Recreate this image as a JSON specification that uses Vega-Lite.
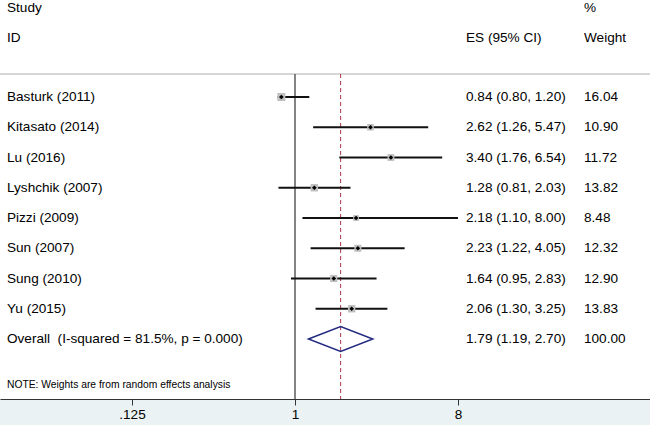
{
  "$schema": "https://vega.github.io/schema/vega-lite/v6.json",
  "width": 650,
  "height": 399,
  "autosize": {"type": "none"},
  "padding": {"left": 0, "top": 0, "right": 0, "bottom": 26},
  "background": "#eaf2f3",
  "config": {
    "view": {"fill": "white", "stroke": null},
    "font": "Liberation Sans",
    "text": {"font": "Liberation Sans", "fontSize": 13.6, "color": "#000000"}
  },
  "data": {
    "values": [
      {"study": "Basturk (2011)", "es": 0.84, "lo": 0.80, "hi": 1.20, "w": 16.04},
      {"study": "Kitasato (2014)", "es": 2.62, "lo": 1.26, "hi": 5.47, "w": 10.90},
      {"study": "Lu (2016)", "es": 3.40, "lo": 1.76, "hi": 6.54, "w": 11.72},
      {"study": "Lyshchik (2007)", "es": 1.28, "lo": 0.81, "hi": 2.03, "w": 13.82},
      {"study": "Pizzi (2009)", "es": 2.18, "lo": 1.10, "hi": 8.00, "w": 8.48},
      {"study": "Sun (2007)", "es": 2.23, "lo": 1.22, "hi": 4.05, "w": 12.32},
      {"study": "Sung (2010)", "es": 1.64, "lo": 0.95, "hi": 2.83, "w": 12.90},
      {"study": "Yu (2015)", "es": 2.06, "lo": 1.30, "hi": 3.25, "w": 13.83},
      {"study": "Overall\u00a0 (I-squared = 81.5%, p = 0.000)", "es": 1.79, "lo": 1.19, "hi": 2.70, "w": 100.00}
    ]
  },
  "transform": [
    {"calculate": "indexof(datum.study, 'Overall') == 0", "as": "isOverall"},
    {"calculate": "format(datum.es, '.2f') + ' (' + format(datum.lo, '.2f') + ', ' + format(datum.hi, '.2f') + ')'", "as": "esLabel"},
    {"calculate": "format(datum.w, '.2f')", "as": "wLabel"}
  ],
  "layer": [
    {
      "data": {"values": [{}]},
      "mark": {"type": "rule", "color": "#c8c8c8", "strokeWidth": 1.5, "yOffset": 7.25},
      "encoding": {
        "y": {"datum": "gap", "type": "nominal", "axis": null,
          "scale": {"type": "point", "padding": 0, "range": [6.25, 369.25],
            "domain": ["Study", "ID", "gap", "Basturk (2011)", "Kitasato (2014)", "Lu (2016)", "Lyshchik (2007)", "Pizzi (2009)", "Sun (2007)", "Sung (2010)", "Yu (2015)", "Overall\u00a0 (I-squared = 81.5%, p = 0.000)", "NOTE"]}}
      }
    },
    {
      "data": {"values": [{}]},
      "mark": {"type": "rule", "color": "#666666", "strokeWidth": 1.6, "yOffset": 7.25, "y2Offset": 29.75},
      "encoding": {
        "x": {"datum": 1, "type": "quantitative",
          "scale": {"type": "log", "base": 2, "domain": [0.023197, 92.68], "nice": false, "zero": false},
          "axis": {"values": [0.125, 1, 8], "labelExpr": "datum.value < 1 ? '.125' : format(datum.value, 'd')",
            "orient": "bottom", "grid": false, "domainColor": "#333333", "domainWidth": 1, "tickColor": "#333333",
            "tickSize": 6, "labelFontSize": 13.6, "labelColor": "#000000", "labelFont": "Liberation Sans", "labelPadding": 2, "title": null}},
        "y": {"datum": "gap", "type": "nominal"},
        "y2": {"datum": "NOTE"}
      }
    },
    {
      "transform": [{"filter": "datum.isOverall"}],
      "mark": {"type": "rule", "color": "#a83a46", "strokeWidth": 1, "strokeDash": [4, 3], "yOffset": 7.25, "y2Offset": 29.75},
      "encoding": {
        "x": {"field": "es", "type": "quantitative"},
        "y": {"datum": "gap", "type": "nominal"},
        "y2": {"datum": "NOTE"}
      }
    },
    {
      "transform": [{"filter": "!datum.isOverall"}],
      "mark": {"type": "rule", "color": "#111111", "strokeWidth": 2},
      "encoding": {
        "x": {"field": "lo", "type": "quantitative"},
        "x2": {"field": "hi"},
        "y": {"field": "study", "type": "nominal"}
      }
    },
    {
      "transform": [{"filter": "!datum.isOverall"}],
      "mark": {"type": "point", "shape": "square", "filled": true, "color": "#c0c0c0", "opacity": 1},
      "encoding": {
        "x": {"field": "es", "type": "quantitative"},
        "y": {"field": "study", "type": "nominal"},
        "size": {"field": "w", "type": "quantitative", "legend": null, "scale": {"type": "linear", "domain": [0, 16.04], "range": [0, 64], "zero": true}}
      }
    },
    {
      "transform": [{"filter": "!datum.isOverall"}],
      "mark": {"type": "point", "shape": "diamond", "filled": true, "color": "#000000", "size": 22, "opacity": 1},
      "encoding": {
        "x": {"field": "es", "type": "quantitative"},
        "y": {"field": "study", "type": "nominal"}
      }
    },
    {
      "transform": [{"filter": "datum.isOverall"}],
      "mark": {"type": "point", "shape": "M-1,0L0,-0.389L1,0L0,0.389Z", "filled": false, "stroke": "#222a80", "strokeWidth": 1.5, "size": 4134, "opacity": 1},
      "encoding": {
        "x": {"field": "es", "type": "quantitative"},
        "y": {"field": "study", "type": "nominal"}
      }
    },
    {
      "mark": {"type": "text", "align": "left", "baseline": "middle"},
      "encoding": {
        "x": {"datum": 0.02536, "type": "quantitative"},
        "y": {"field": "study", "type": "nominal"},
        "text": {"field": "study"}
      }
    },
    {
      "mark": {"type": "text", "align": "left", "baseline": "middle"},
      "encoding": {
        "x": {"datum": 8.862, "type": "quantitative"},
        "y": {"field": "study", "type": "nominal"},
        "text": {"field": "esLabel"}
      }
    },
    {
      "mark": {"type": "text", "align": "left", "baseline": "middle"},
      "encoding": {
        "x": {"datum": 39.93, "type": "quantitative"},
        "y": {"field": "study", "type": "nominal"},
        "text": {"field": "wLabel"}
      }
    },
    {
      "data": {"values": [{"label": "Study", "row": "Study"}, {"label": "ID", "row": "ID"}]},
      "mark": {"type": "text", "align": "left", "baseline": "middle", "dy": 1.5},
      "encoding": {
        "x": {"datum": 0.02536, "type": "quantitative"},
        "y": {"field": "row", "type": "nominal"},
        "text": {"field": "label"}
      }
    },
    {
      "data": {"values": [{"label": "ES (95% CI)", "row": "ID"}]},
      "mark": {"type": "text", "align": "left", "baseline": "middle", "dy": 1.5},
      "encoding": {
        "x": {"datum": 8.862, "type": "quantitative"},
        "y": {"field": "row", "type": "nominal"},
        "text": {"field": "label"}
      }
    },
    {
      "data": {"values": [{"label": "%", "row": "Study"}, {"label": "Weight", "row": "ID"}]},
      "mark": {"type": "text", "align": "left", "baseline": "middle", "dy": 1.5},
      "encoding": {
        "x": {"datum": 39.93, "type": "quantitative"},
        "y": {"field": "row", "type": "nominal"},
        "text": {"field": "label"}
      }
    },
    {
      "data": {"values": [{"label": "NOTE: Weights are from random effects analysis", "row": "NOTE"}]},
      "mark": {"type": "text", "align": "left", "baseline": "middle", "fontSize": 10.3, "dy": 16},
      "encoding": {
        "x": {"datum": 0.02536, "type": "quantitative"},
        "y": {"field": "row", "type": "nominal"},
        "text": {"field": "label"}
      }
    }
  ]
}
